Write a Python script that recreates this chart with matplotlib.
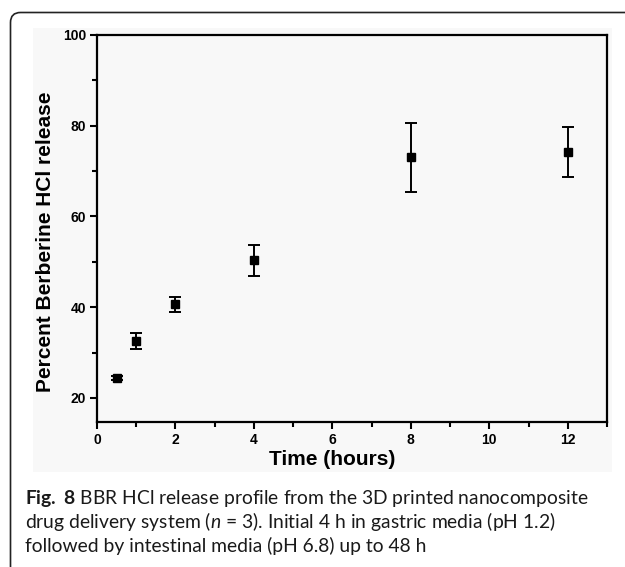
import matplotlib.pyplot as plt
from matplotlib.ticker import MultipleLocator
from matplotlib.patches import Rectangle
from matplotlib.path import Path
from matplotlib.patches import PathPatch

# datos
tiempo = [0.5, 1, 2, 4, 8, 12]
liberacion = [24.4, 32.6, 40.6, 50.3, 73.1, 74.3]
error = [0.5, 1.7, 1.6, 3.4, 7.6, 5.5]

fuente = "Lato"
plt.rcParams["mathtext.fontset"] = "custom"
plt.rcParams["mathtext.rm"] = fuente
plt.rcParams["mathtext.it"] = fuente + ":italic"
plt.rcParams["mathtext.bf"] = fuente + ":bold"

fig = plt.figure(figsize=(6.25, 5.67), dpi=100)
W, H = 625, 567

# fondo gris muy claro de la imagen original
fig.patches.append(Rectangle((33 / W, 1 - 472 / H), (612 - 33) / W, (472 - 28) / H,
                             transform=fig.transFigure, facecolor="#f8f8f8",
                             edgecolor="none", zorder=-10))

# borde redondeado arriba a la izquierda
r = 10
x0, y0 = 10.5, 12.5
verts = [(x0, H), (x0, y0 + r), (x0, y0), (x0 + r, y0), (W + 5, y0)]
codes = [Path.MOVETO, Path.LINETO, Path.CURVE3, Path.CURVE3, Path.LINETO]
verts = [(vx / W, 1 - vy / H) for vx, vy in verts]
fig.patches.append(PathPatch(Path(verts, codes), transform=fig.transFigure,
                             facecolor="none", edgecolor="#222222", lw=1.2,
                             zorder=-10))

ax = fig.add_axes([97 / W, 1 - 422 / H, (607 - 97) / W, (422 - 35) / H])
ax.set_facecolor("none")
ax.set_zorder(5)

ax.errorbar(tiempo, liberacion, yerr=error, fmt="s", color="black",
            markersize=5.8, capsize=4.5, elinewidth=1.4, capthick=1.4)

ax.set_xlim(0, 13)
ax.set_ylim(14.7, 100)
ax.xaxis.set_major_locator(MultipleLocator(2))
ax.xaxis.set_minor_locator(MultipleLocator(1))
ax.yaxis.set_major_locator(MultipleLocator(20))
ax.yaxis.set_minor_locator(MultipleLocator(10))

for s in ax.spines.values():
    s.set_linewidth(1.6)
ax.tick_params(which="major", direction="out", length=5, width=1.5, pad=3,
               top=False, right=False)
ax.tick_params(which="minor", direction="out", length=3.5, width=1.5,
               top=False, right=False)
for lab in ax.get_xticklabels() + ax.get_yticklabels():
    lab.set_fontfamily("Liberation Sans")
    lab.set_fontweight("bold")
    lab.set_fontsize(10)

ax.set_xlabel("Time (hours)", fontfamily="Liberation Sans", fontweight="bold",
              fontsize=15)
ax.set_ylabel("Percent Berberine HCl release", fontfamily="Liberation Sans",
              fontweight="bold", fontsize=15)
ax.xaxis.set_label_coords(0.461, -0.072)
ax.yaxis.set_label_coords(-0.082, 0.465)

# pie de figura
lineas = [
    r"$\bf{Fig.}$ $\bf{8}$ BBR HCl release profile from the 3D printed nanocomposite",
    r"drug delivery system ($\it{n}$ = 3). Initial 4 h in gastric media (pH 1.2)",
    "followed by intestinal media (pH 6.8) up to 48 h",
]
for i, texto in enumerate(lineas):
    fig.text(25 / W, 1 - (504 + 24 * i) / H, texto, fontsize=13.9, va="baseline",
             fontfamily=fuente, color="#1a1a1a")

fig.savefig("out.png", dpi=100)
